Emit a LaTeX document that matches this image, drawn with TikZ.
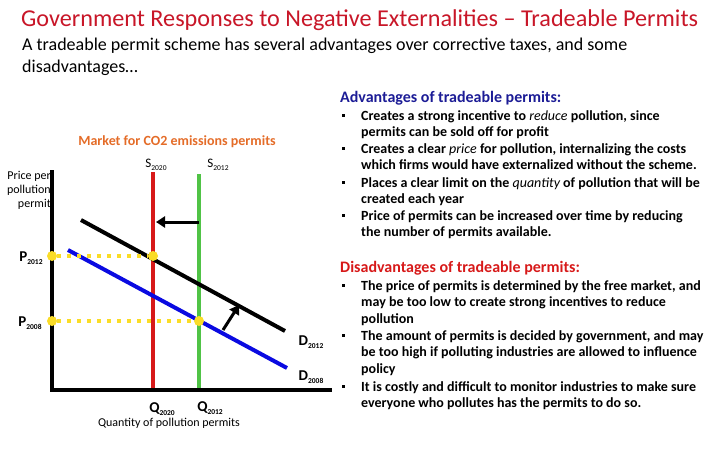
\documentclass[tikz,border=0pt]{standalone}
\usepackage{fontspec}
\setmainfont{Carlito}
\usepackage{xcolor}
\usetikzlibrary{arrows.meta,positioning}

\definecolor{titlered}{RGB}{200,22,40}
\definecolor{advblue}{RGB}{28,28,150}
\definecolor{marketorange}{RGB}{228,108,40}
\definecolor{dotyellow}{RGB}{250,220,40}
\definecolor{supred}{RGB}{215,25,25}
\definecolor{supgreen}{RGB}{80,195,70}
\definecolor{demblue}{RGB}{10,10,225}

\newcommand{\lowidx}[1]{\raisebox{-0.45ex}{\fontsize{7.5}{7.5}\selectfont #1}}

\begin{document}
\begin{tikzpicture}[
  x=1pt,y=-1pt,
  axis/.style={line width=4pt,line cap=rect},
  supply/.style={line width=4pt},
  demand/.style={line width=4pt},
  guide/.style={line width=4pt,draw=dotyellow,dash pattern=on 4pt off 6pt},
  eqdot/.style={circle,fill=dotyellow,inner sep=0pt,minimum size=10pt},
  shiftarr/.style={-{Triangle[length=9pt,width=11pt]},line width=3pt},
  curvelbl/.style={inner sep=0pt,font=\fontsize{15}{15}\selectfont\bfseries},
  sublbl/.style={inner sep=0pt,font=\fontsize{13}{13}\selectfont},
  heading/.style={anchor=base west,inner sep=0pt,font=\fontsize{16}{18}\selectfont\bfseries},
  item/.style={anchor=base west,inner sep=0pt,align=left,font=\fontsize{14}{16.8}\selectfont\bfseries},
  sq/.style={rectangle,fill=black,inner sep=0pt,minimum size=3pt}
]
\useasboundingbox (0,0) rectangle (720,450);

% title and intro (base = last line)
\node[anchor=base west,inner sep=0pt,text=titlered,font=\fontsize{24.2}{28}\selectfont] (title) at (21,26)
  {Government Responses to Negative Externalities -- Tradeable Permits};
\node[anchor=base west,inner sep=0pt,align=left,font=\fontsize{18}{22}\selectfont] (intro) at (22,72)
  {A tradeable permit scheme has several advantages over corrective taxes, and some\\disadvantages\ldots};

% market diagram
\coordinate (O) at (52,390);
\coordinate (ytop) at (52,172);
\coordinate (xend) at (330,390);
\coordinate (s20top) at (153,172);
\coordinate (s20bot) at (153,390);
\coordinate (s12top) at (199,174);
\coordinate (s12bot) at (199,390);
\coordinate (d12a) at (81,220);
\coordinate (d12b) at (285,331);
\coordinate (d08a) at (68,250);
\coordinate (d08b) at (287,368);

\draw[supply,supred] (s20top) -- (s20bot);
\draw[supply,supgreen] (s12top) -- (s12bot);
\draw[demand,black] (d12a) -- (d12b);
\draw[demand,demblue] (d08a) -- (d08b);
\draw[axis] (ytop) -- (O) -- (xend);

\node[eqdot] (p12) at (52,256) {};
\node[eqdot] (e12) at (153,256) {};
\node[eqdot] (p08) at (52,321) {};
\node[eqdot] (e08) at (199,321) {};
\draw[guide] (p12) -- (e12);
\draw[guide] (p08) -- (e08);

\coordinate (sfrom) at (199,222);
\coordinate (sto) at (156,222);
\coordinate (dfrom) at (223,330);
\coordinate (dto) at (239,305);
\draw[shiftarr] (sfrom) -- (sto);
\draw[shiftarr] (dfrom) -- (dto);

\node[font=\fontsize{14}{16}\selectfont\bfseries,text=marketorange,inner sep=0pt] (market) at (177,142)
  {Market for CO2 emissions permits};
\node[sublbl] (s20lbl) at (156,165) {S\lowidx{2020}};
\node[sublbl] (s12lbl) at (218,165) {S\lowidx{2012}};
\node[align=right,anchor=east,inner sep=0pt,font=\fontsize{12}{14}\selectfont] (ylbl) at (51,190)
  {Price per\\pollution\\permit};
\node[curvelbl] (p12lbl) at (31,258) {P\lowidx{2012}};
\node[curvelbl] (p08lbl) at (30,323) {P\lowidx{2008}};
\node[curvelbl] (d12lbl) at (311,342) {D\lowidx{2012}};
\node[curvelbl] (d08lbl) at (311,377) {D\lowidx{2008}};
\node[curvelbl] (q20lbl) at (162,409) {Q\lowidx{2020}};
\node[curvelbl] (q12lbl) at (210,408) {Q\lowidx{2012}};
\node[inner sep=0pt,font=\fontsize{12}{14}\selectfont] (xlbl) at (169,423) {Quantity of pollution permits};

% advantages (base = last line)
\node[heading,text=advblue] (advhead) at (340,102) {Advantages of tradeable permits:};
\node[item] (adv1) at (361,136.8) {Creates a strong incentive to {\mdseries\itshape reduce} pollution, since\\permits can be sold off for profit};
\node[item] (adv2) at (361,169.8) {Creates a clear {\mdseries\itshape price} for pollution, internalizing the costs\\which firms would have externalized without the scheme.};
\node[item] (adv3) at (361,203.8) {Places a clear limit on the {\mdseries\itshape quantity} of pollution that will be\\created each year};
\node[item] (adv4) at (361,236.8) {Price of permits can be increased over time by reducing\\the number of permits available.};
\foreach \n/\y in {1/115,2/148,3/182,4/215}
  \node[sq] (advb\n) at (343,\y) {};

% disadvantages
\node[heading,text=supred] (dishead) at (340,272) {Disadvantages of tradeable permits:};
\node[item] (dis1) at (361,323.6) {The price of permits is determined by the free market, and\\may be too low to create strong incentives to reduce\\pollution};
\node[item] (dis2) at (361,373.6) {The amount of permits is decided by government, and may\\be too high if polluting industries are allowed to influence\\policy};
\node[item] (dis3) at (361,407.8) {It is costly and difficult to monitor industries to make sure\\everyone who pollutes has the permits to do so.};
\foreach \n/\y in {1/285,2/335,3/386}
  \node[sq] (disb\n) at (343,\y) {};
\end{tikzpicture}
\end{document}
